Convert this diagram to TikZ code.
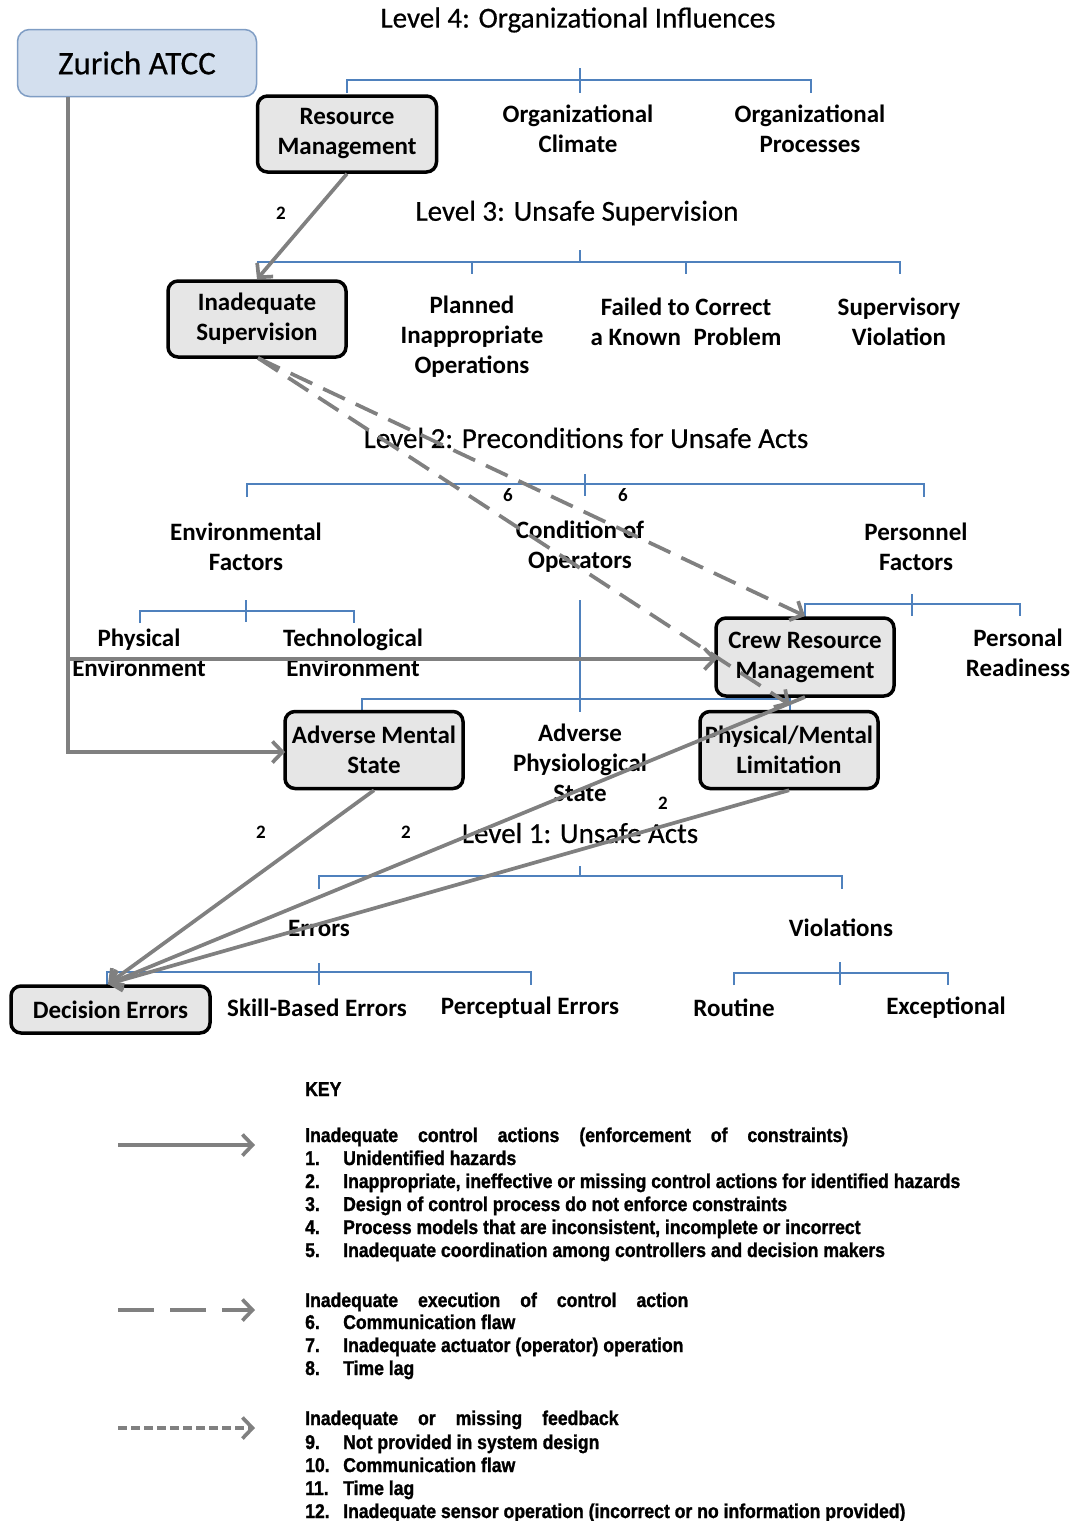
\documentclass[tikz,border=0pt]{standalone}
\usepackage{fontspec}
\setmainfont{Carlito}
\newfontfamily\titlefont[FakeBold=0.5]{Carlito}
\newfontfamily\keyfont[FakeStretch=0.88, BoldFeatures={FakeBold=1.2}]{Liberation Sans}
\usetikzlibrary{arrows.meta}
\definecolor{bluebrk}{HTML}{4F81BD}
\definecolor{conngrey}{HTML}{808080}
\definecolor{boxfill}{HTML}{E6E6E6}
\definecolor{zfill}{HTML}{D3DFEE}
\definecolor{zdraw}{HTML}{7F9DC4}
\newcommand\kgap{\hspace{20pt}}
\begin{document}
\begin{tikzpicture}[x=1pt,y=-1pt,
  titletext/.style={font=\titlefont\fontsize{29}{34}\selectfont, inner sep=0pt},
  itemtext/.style={font=\fontsize{25}{30}\selectfont\bfseries, align=center, inner sep=0pt},
  hbox/.style={itemtext, draw=black, line width=3.5pt, fill=boxfill, rounded corners=10pt, minimum width=178pt, minimum height=77pt},
  bracket/.style={draw=bluebrk, line width=1.4pt},
  conn/.style={draw=conngrey, line width=3.7pt, -{Straight Barb[length=10pt,width=21pt]}},
  conndash/.style={conn, dash pattern=on 24pt off 12pt},
  numlabel/.style={font=\fontsize{19}{22}\selectfont\bfseries, inner sep=0pt},
  keytext/.style={font=\keyfont\bfseries\fontsize{20}{23}\selectfont, anchor=base west, inner sep=0pt},
]
\useasboundingbox (0,0) rectangle (1072,1521);

% ---------- Level 4 ----------
\node[titletext] (t4) at (578,20) {Level 4: Organizational Influences};
\node[draw=zdraw, line width=1.5pt, fill=zfill, rounded corners=12pt, minimum width=239pt, minimum height=67pt, font=\titlefont\fontsize{33}{38}\selectfont] (zurich) at (137,63) {Zurich ATCC};
\draw[bracket] (347,93) -- (347,80) -- (811,80) -- (811,93);
\draw[bracket] (580,68) -- (580,93);
\node[hbox, minimum width=179pt, minimum height=76pt] (rm) at (347,134) {Resource\\Management};
\node[itemtext] (oc) at (578,129) {Organizational\\Climate};
\node[itemtext] (op) at (810,129) {Organizational\\Processes};

% ---------- Level 3 ----------
\node[titletext] (t3) at (577,213) {Level 3: Unsafe Supervision};
\draw[bracket] (258,274) -- (258,262) -- (900,262) -- (900,274);
\draw[bracket] (580,250) -- (580,262);
\draw[bracket] (472,262) -- (472,274);
\draw[bracket] (686,262) -- (686,274);
\node[hbox, minimum height=76pt] (is) at (257,319) {Inadequate\\Supervision};
\node[itemtext] (pio) at (472,337) {Planned\\Inappropriate\\Operations};
\node[itemtext] (fc) at (686,322) {Failed to Correct\\a Known\enspace Problem};
\node[itemtext] (sv) at (899,322) {Supervisory\\Violation};

% ---------- Level 2 ----------
\node[titletext] (t2) at (586,438) {Level 2: Preconditions for Unsafe Acts};
\draw[bracket] (247,497) -- (247,484) -- (924,484) -- (924,497);
\draw[bracket] (585,474) -- (585,496);
\node[itemtext] (ef) at (246,547) {Environmental\\Factors};
\node[itemtext] (co) at (580,547) {Condition of\\Operators};
\node[itemtext] (pf) at (916,547) {Personnel\\Factors};
\draw[bracket] (140,623) -- (140,611) -- (354,611) -- (354,623);
\draw[bracket] (246,600) -- (246,622);
\draw[bracket] (805,617) -- (805,604) -- (1020,604) -- (1020,616);
\draw[bracket] (912,594) -- (912,616);
\draw[bracket] (580,600) -- (580,712);
\draw[bracket] (362,711) -- (362,699) -- (790,699) -- (790,711);
\node[itemtext] (phe) at (139,653) {Physical\\Environment};
\node[itemtext] (tee) at (353,653) {Technological\\Environment};
\node[hbox, minimum height=78pt] (crm) at (805,657) {Crew Resource\\Management};
\node[itemtext] (pr) at (1018,653) {Personal\\Readiness};
\node[hbox] (ams) at (374,750) {Adverse Mental\\State};
\node[itemtext] (aps) at (580,763) {Adverse\\Physiological\\State};
\node[hbox] (pml) at (789,750) {Physical/Mental\\Limitation};

% ---------- Level 1 ----------
\node[titletext] (t1) at (580,833) {Level 1: Unsafe Acts};
\draw[bracket] (319,889) -- (319,876) -- (842,876) -- (842,889);
\draw[bracket] (580,866) -- (580,876);
\node[itemtext] (er) at (319,928) {Errors};
\node[itemtext] (vi) at (841,928) {Violations};
\draw[bracket] (107,985) -- (107,972) -- (531,972) -- (531,985);
\draw[bracket] (319,963) -- (319,985);
\draw[bracket] (734,985) -- (734,973) -- (948,973) -- (948,985);
\draw[bracket] (840,962) -- (840,985);
\node[hbox, minimum width=199pt, minimum height=47pt] (de) at (110.5,1009.5) {Decision Errors};
\node[itemtext] (sb) at (317,1008) {Skill-Based Errors};
\node[itemtext] (pce) at (530,1008) {Perceptual Errors};
\node[itemtext] (ro) at (734,1008) {Routine};
\node[itemtext] (ex) at (946,1008) {Exceptional};

% ---------- connectors ----------
\coordinate (zb) at (68,97);
\coordinate (zj) at (68,659);
\coordinate (crmin) at (717,659);
\coordinate (amsin) at (285,752);
\draw[conn] (zb) |- (amsin);
\draw[conn] (zj) -- (crmin);
\draw[conn] (rm.south) -- (is.north);
\coordinate (isout) at (258,358);
\coordinate (crmtop) at (805,616);
\coordinate (pmltop) at (790,705);
\draw[conndash] (isout) -- (crmtop);
\draw[conndash] (isout) -- (pmltop);
\coordinate (dein) at (108,984);
\coordinate (crmout) at (805,697);
\draw[conn] (ams.south) -- (dein);
\draw[conn] (crmout) -- (dein);
\draw[conn] (pml.south) -- (dein);

\node[numlabel] (n1) at (281,213) {2};
\node[numlabel] (n2) at (508,495) {6};
\node[numlabel] (n3) at (623,495) {6};
\node[numlabel] (n4) at (261,832) {2};
\node[numlabel] (n5) at (406,832) {2};
\node[numlabel] (n6) at (663,803) {2};

% ---------- KEY ----------
\node[keytext] (key) at (305,1096) {KEY};
\coordinate (ka1) at (118,1145);
\coordinate (kb1) at (255,1145);
\draw[conn] (ka1) -- (kb1);
\node[keytext] (kh1) at (305,1142) {Inadequate\kgap control\kgap actions\kgap (enforcement\kgap of\kgap constraints)};
\node[keytext] (k1n) at (305,1165) {1.};
\node[keytext] (k1) at (343,1165) {Unidentified hazards};
\node[keytext] (k2n) at (305,1188) {2.};
\node[keytext] (k2) at (343,1188) {Inappropriate, ineffective or missing control actions for identified hazards};
\node[keytext] (k3n) at (305,1211) {3.};
\node[keytext] (k3) at (343,1211) {Design of control process do not enforce constraints};
\node[keytext] (k4n) at (305,1234) {4.};
\node[keytext] (k4) at (343,1234) {Process models that are inconsistent, incomplete or incorrect};
\node[keytext] (k5n) at (305,1257) {5.};
\node[keytext] (k5) at (343,1257) {Inadequate coordination among controllers and decision makers};

\coordinate (ka2) at (118,1310);
\coordinate (kb2) at (255,1310);
\draw[conn, dash pattern=on 36pt off 16pt] (ka2) -- (kb2);
\node[keytext] (kh2) at (305,1307) {Inadequate\kgap execution\kgap of\kgap control\kgap action};
\node[keytext] (k6n) at (305,1329) {6.};
\node[keytext] (k6) at (343,1329) {Communication flaw};
\node[keytext] (k7n) at (305,1352) {7.};
\node[keytext] (k7) at (343,1352) {Inadequate actuator (operator) operation};
\node[keytext] (k8n) at (305,1375) {8.};
\node[keytext] (k8) at (343,1375) {Time lag};

\coordinate (ka3) at (118,1428);
\coordinate (kb3) at (255,1428);
\draw[conn, dash pattern=on 9pt off 4pt] (ka3) -- (kb3);
\node[keytext] (kh3) at (305,1425) {Inadequate\kgap or\kgap missing\kgap feedback};
\node[keytext] (k9n) at (305,1449) {9.};
\node[keytext] (k9) at (343,1449) {Not provided in system design};
\node[keytext] (k10n) at (305,1472) {10.};
\node[keytext] (k10) at (343,1472) {Communication flaw};
\node[keytext] (k11n) at (305,1495) {11.};
\node[keytext] (k11) at (343,1495) {Time lag};
\node[keytext] (k12n) at (305,1518) {12.};
\node[keytext] (k12) at (343,1518) {Inadequate sensor operation (incorrect or no information provided)};
\end{tikzpicture}
\end{document}
